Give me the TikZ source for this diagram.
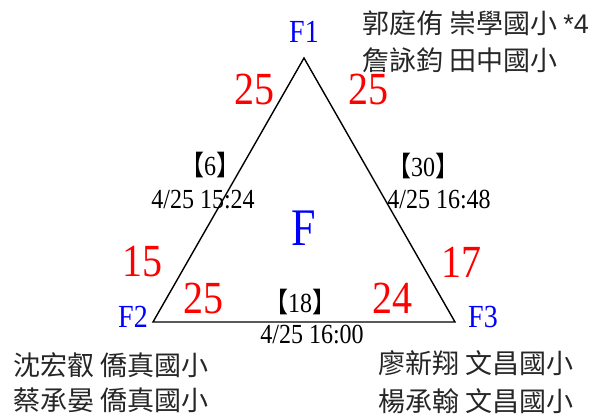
\documentclass[tikz,border=0pt]{standalone}
\usepackage{fontspec}
\setmainfont{Liberation Serif}
\setsansfont{Liberation Sans}
\newfontfamily\cjk{Noto Sans CJK TC}
\usetikzlibrary{positioning}

\newcommand{\gamenum}[1]{{\cjk 【}#1{\cjk 】}}
\newcommand{\talltext}[1]{\scalebox{1}[1.15]{#1}}

\begin{document}
\begin{tikzpicture}[x=1pt,y=-1pt,
  vlabel/.style={text=blue,inner sep=0pt,font=\fontsize{28}{28}\selectfont},
  score/.style={text=red,inner sep=0pt,font=\fontsize{40}{40}\selectfont},
  game/.style={inner sep=0pt,font=\fontsize{24}{24}\selectfont},
  names/.style={anchor=west,inner sep=0pt,text=black!85,font=\cjk\fontsize{27}{27}\selectfont}]

\useasboundingbox (0,0) rectangle (603,416);

% Triangle
\coordinate (v1) at (304,58);
\coordinate (v2) at (153,322);
\coordinate (v3) at (455,322);
\draw[line width=1.4pt] (v1) -- (v2) -- (v3) -- cycle;

% Vertex labels
\node[vlabel] (f1) at (304,32) {\talltext{F1}};
\node[vlabel] (f2) at (133,317) {\talltext{F2}};
\node[vlabel] (f3) at (483,317) {\talltext{F3}};
\node[text=blue,inner sep=0pt,font=\fontsize{44}{44}\selectfont] (f) at (304,228) {\scalebox{1}[1.2]{F}};

% Scores
\node[score] (s12) at (254,89) {\talltext{25}};
\node[score] (s13) at (368,89) {\talltext{25}};
\node[score] (s21) at (142,262) {\talltext{15}};
\node[score] (s31) at (461,262) {\talltext{17}};
\node[score] (s23) at (203,298) {\talltext{25}};
\node[score] (s32) at (392,298) {\talltext{24}};

% Games
\node[game] (g12) at (210,165) {\talltext{\gamenum{6}}};
\node[game] (t12) at (203,200) {\talltext{4/25 15:24}};
\node[game] (g13) at (423,166) {\talltext{\gamenum{30}}};
\node[game] (t13) at (439,200) {\talltext{4/25 16:48}};
\node[game] (g23) at (300,302) {\talltext{\gamenum{18}}};
\node[game] (t23) at (312,335) {\talltext{4/25 16:00}};

% Players
\node[names] (p1a) at (362,23) {郭庭侑 崇學國小 {\sffamily *4}};
\node[names] (p1b) at (362,60) {詹詠鈞 田中國小};
\node[names] (p2a) at (13,365) {沈宏叡 僑真國小};
\node[names] (p2b) at (13,400) {蔡承晏 僑真國小};
\node[names] (p3a) at (378,363) {廖新翔 文昌國小};
\node[names] (p3b) at (378,401) {楊承翰 文昌國小};

\end{tikzpicture}
\end{document}
